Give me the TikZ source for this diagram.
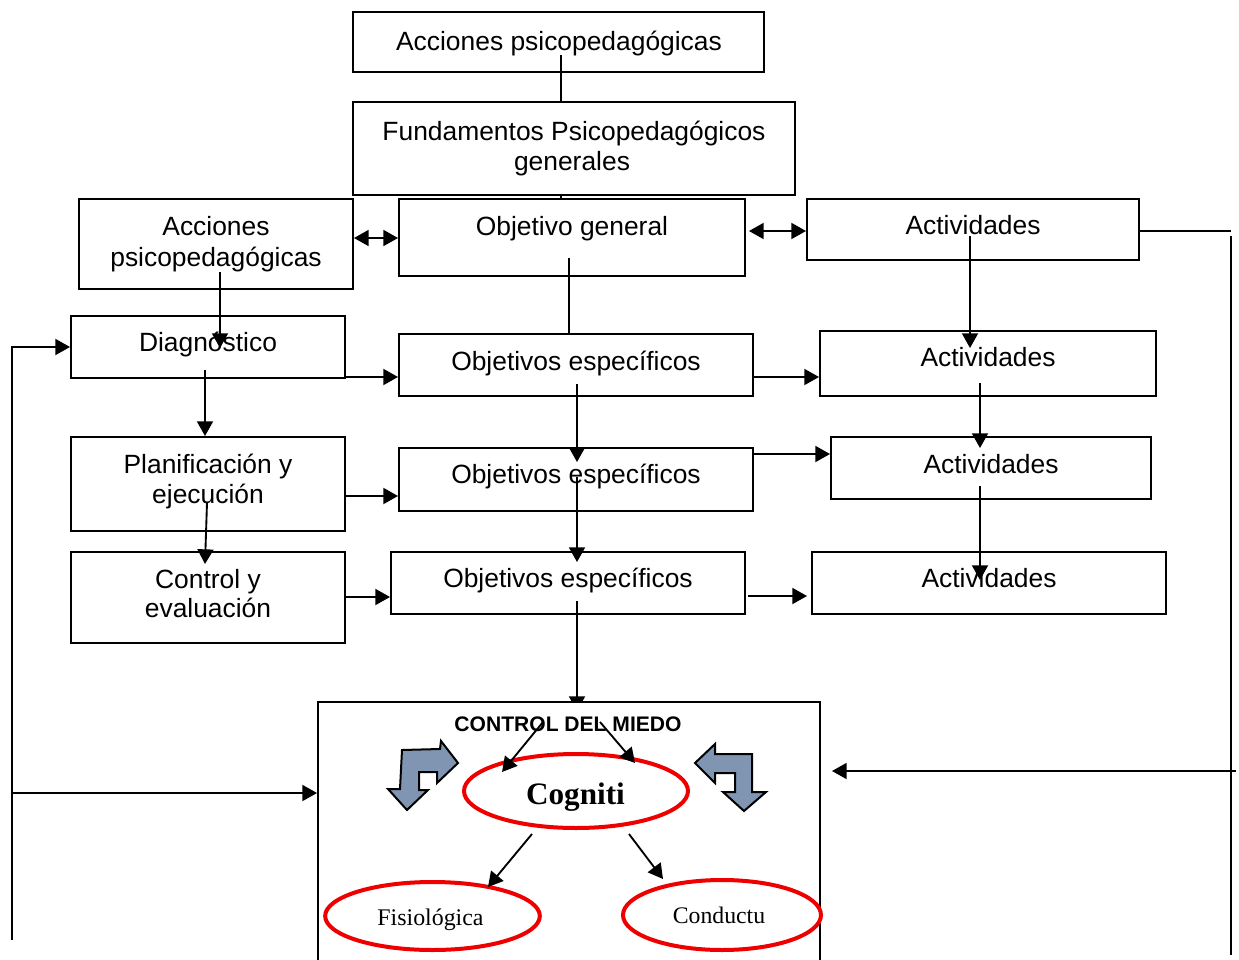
\documentclass[tikz,border=0pt]{standalone}
\usepackage{fontspec}
\setmainfont{Liberation Sans}
\newfontfamily\tmsfont{Liberation Serif}
\usetikzlibrary{arrows.meta,fit,shapes.geometric}
\definecolor{bentfill}{RGB}{127,149,178}
\definecolor{ellred}{RGB}{238,0,0}
\begin{document}
\begin{tikzpicture}[x=0.75pt,y=-0.75pt,
  boxst/.style={draw, line width=1.5pt, inner sep=0pt, rectangle},
  txt/.style={inner sep=0pt, anchor=base, font=\fontsize{19.8}{23}\selectfont},
  conn/.style={line width=1.4pt},
  arr/.style={conn, -{Triangle[length=11pt,width=12pt]}},
  darr/.style={conn, {Triangle[length=11pt,width=12pt]}-{Triangle[length=11pt,width=12pt]}},
  ell/.style={draw=ellred, line width=3pt, ellipse, inner sep=0pt},
  bent/.style={draw=black, line width=1.5pt, fill=bentfill, line join=miter}]
\useasboundingbox (0,0) rectangle (1239,960);
\clip (0,0) rectangle (1239,960);

% ---------- boxes ----------
\node[boxst, fit={(353,12) (764,72)}] (top) {};
\node[boxst, fit={(353,102) (795,195)}] (fund) {};
\node[boxst, fit={(79,199) (353,289)}] (acc) {};
\node[boxst, fit={(399,199) (745,276)}] (objgen) {};
\node[boxst, fit={(807,199) (1139,260)}] (act1) {};
\node[boxst, fit={(71,316) (345,378)}] (diag) {};
\node[boxst, fit={(399,334) (753,396)}] (obj1) {};
\node[boxst, fit={(820,331) (1156,396)}] (act2) {};
\node[boxst, fit={(71,437) (345,531)}] (plan) {};
\node[boxst, fit={(399,448) (753,511)}] (obj2) {};
\node[boxst, fit={(831,437) (1151,499)}] (act3) {};
\node[boxst, fit={(71,552) (345,643)}] (ctrl) {};
\node[boxst, fit={(391,552) (745,614)}] (obj3) {};
\node[boxst, fit={(812,552) (1166,614)}] (act4) {};

% arrow into the CONTROL box, partly hidden by its white fill
\coordinate (k23) at (577,601);
\coordinate (k23b) at (577,711);
\draw[arr] (k23) -- (k23b);
\node[boxst, fill=white, fit={(318,702) (820,985)}] (cbox) {};

% ---------- texts ----------
\node[txt] (top-t) at (559,50) {Acciones psicopedagógicas};
\node[txt] (fund-t1) at (574,140) {Fundamentos Psicopedagógicos};
\node[txt] (fund-t2) at (572,170) {generales};
\node[txt] (acc-t1) at (216,235) {Acciones};
\node[txt] (acc-t2) at (216,266) {psicopedagógicas};
\node[txt] (objgen-t) at (572,235) {Objetivo general};
\node[txt] (act1-t) at (973,234) {Actividades};
\node[txt] (diag-t) at (208,351) {Diagnóstico};
\node[txt] (obj1-t) at (576,370) {Objetivos específicos};
\node[txt] (act2-t) at (988,366) {Actividades};
\node[txt] (plan-t1) at (208,473) {Planificación y};
\node[txt] (plan-t2) at (208,503) {ejecución};
\node[txt] (obj2-t) at (576,483) {Objetivos específicos};
\node[txt] (act3-t) at (991,473) {Actividades};
\node[txt] (ctrl-t1) at (208,588) {Control y};
\node[txt] (ctrl-t2) at (208,617) {evaluación};
\node[txt] (obj3-t) at (568,587) {Objetivos específicos};
\node[txt] (act4-t) at (989,587) {Actividades};

% ---------- CONTROL DEL MIEDO content ----------
\node[inner sep=0pt, anchor=base, font=\fontsize{15.8}{18}\selectfont\bfseries] (miedo) at (568,731) {CONTROL DEL MIEDO};
\node[ell, minimum width=168pt, minimum height=55.5pt] (cog) at (576,791) {};
\node[ell, minimum width=161pt, minimum height=51pt] (fis) at (432.5,916) {};
\node[ell, minimum width=148.5pt, minimum height=52.5pt] (con) at (722,915) {};
\node[inner sep=0pt, anchor=base, font=\tmsfont\bfseries\fontsize{23.4}{26}\selectfont] (cog-t) at (575.5,804) {Cogniti};
\node[inner sep=0pt, anchor=base, font=\tmsfont\fontsize{17.9}{20}\selectfont] (fis-t) at (430.5,925) {Fisiológica};
\node[inner sep=0pt, anchor=base, font=\tmsfont\fontsize{17.8}{20}\selectfont] (con-t) at (719,923) {Conductu};

% bent arrows (shapes)
\draw[bent] (402,750) -- (440,749) -- (441,741) -- (458,763) -- (437,783) -- (437,772) -- (419,772) -- (419,790) -- (428,790) -- (407,810) -- (388,789) -- (400,789) -- cycle;
\draw[bent] (695,763) -- (715,744) -- (715,754) -- (752,754) -- (752,792) -- (766,792) -- (744,811) -- (723,792) -- (735,792) -- (735,773) -- (715,773) -- (715,783) -- cycle;

% ---------- coordinates ----------
\coordinate (k1) at (561,55);
\coordinate (k3) at (0,238);
\coordinate (k4) at (749,231);
\coordinate (k5) at (1231,231);
\coordinate (k5a) at (1231,236);
\coordinate (k5b) at (1231,955);
\coordinate (k5c) at (1236,771);
\coordinate (k5d) at (832,771);
\coordinate (k6a) at (220,272);
\coordinate (k6b) at (220,348);
\coordinate (k7) at (12,940);
\coordinate (k8) at (12,793);
\coordinate (k9) at (205,370);
\coordinate (k11) at (569,258);
\coordinate (k12a) at (577,384);
\coordinate (k12b) at (577,462);
\coordinate (k13) at (0,377);
\coordinate (k14a) at (970,236);
\coordinate (k14b) at (970,348);
\coordinate (k15) at (0,496);
\coordinate (k16a) at (207,503);
\coordinate (k16b) at (205,564);
\coordinate (k17a) at (577,477);
\coordinate (k17b) at (577,562);
\coordinate (k18) at (0,454);
\coordinate (k19a) at (980,383);
\coordinate (k19b) at (980,448);
\coordinate (k20a) at (980,486);
\coordinate (k20b) at (980,580);
\coordinate (k21) at (0,597);
\coordinate (k22a) at (748,596);
\coordinate (k22b) at (807,596);
\coordinate (m1a) at (543,722);
\coordinate (m1b) at (502,772);
\coordinate (m2a) at (600,722);
\coordinate (m2b) at (635,763);
\coordinate (m3a) at (532,834);
\coordinate (m3b) at (488,887);
\coordinate (m4a) at (629,834);
\coordinate (m4b) at (663,879);

% ---------- connectors ----------
\draw[conn] (k1) -- (k1 |- fund.north);
\draw[conn] (fund.south -| k1) -- (objgen.north -| k1);
\draw[darr] (acc.east |- k3) -- (objgen.west |- k3);
\draw[darr] (k4) -- (act1.west |- k4);
\draw[conn] (act1.east |- k5) -- (k5);
\draw[conn] (k5a) -- (k5b);
\draw[arr] (k5c) -- (k5d);
\draw[arr] (k6a) -- (k6b);
\draw[arr] (k7) |- (diag.west);
\draw[arr] (k8) -- (cbox.west |- k8);
\draw[arr] (k9) -- (k9 |- plan.north);
\draw[arr] (diag.east |- k13) -- (obj1.west |- k13);
\draw[conn] (k11) -- (k11 |- obj1.north);
\draw[arr] (k12a) -- (k12b);
\draw[arr] (obj1.east |- k13) -- (act2.west |- k13);
\draw[arr] (k14a) -- (k14b);
\draw[arr] (plan.east |- k15) -- (obj2.west |- k15);
\draw[arr] (k16a) -- (k16b);
\draw[arr] (k17a) -- (k17b);
\draw[arr] (obj2.east |- k18) -- (act3.west |- k18);
\draw[arr] (k19a) -- (k19b);
\draw[arr] (k20a) -- (k20b);
\draw[arr] (ctrl.east |- k21) -- (obj3.west |- k21);
\draw[arr] (k22a) -- (k22b);
\draw[arr] (m1a) -- (m1b);
\draw[arr] (m2a) -- (m2b);
\draw[arr] (m3a) -- (m3b);
\draw[arr] (m4a) -- (m4b);
\end{tikzpicture}
\end{document}
